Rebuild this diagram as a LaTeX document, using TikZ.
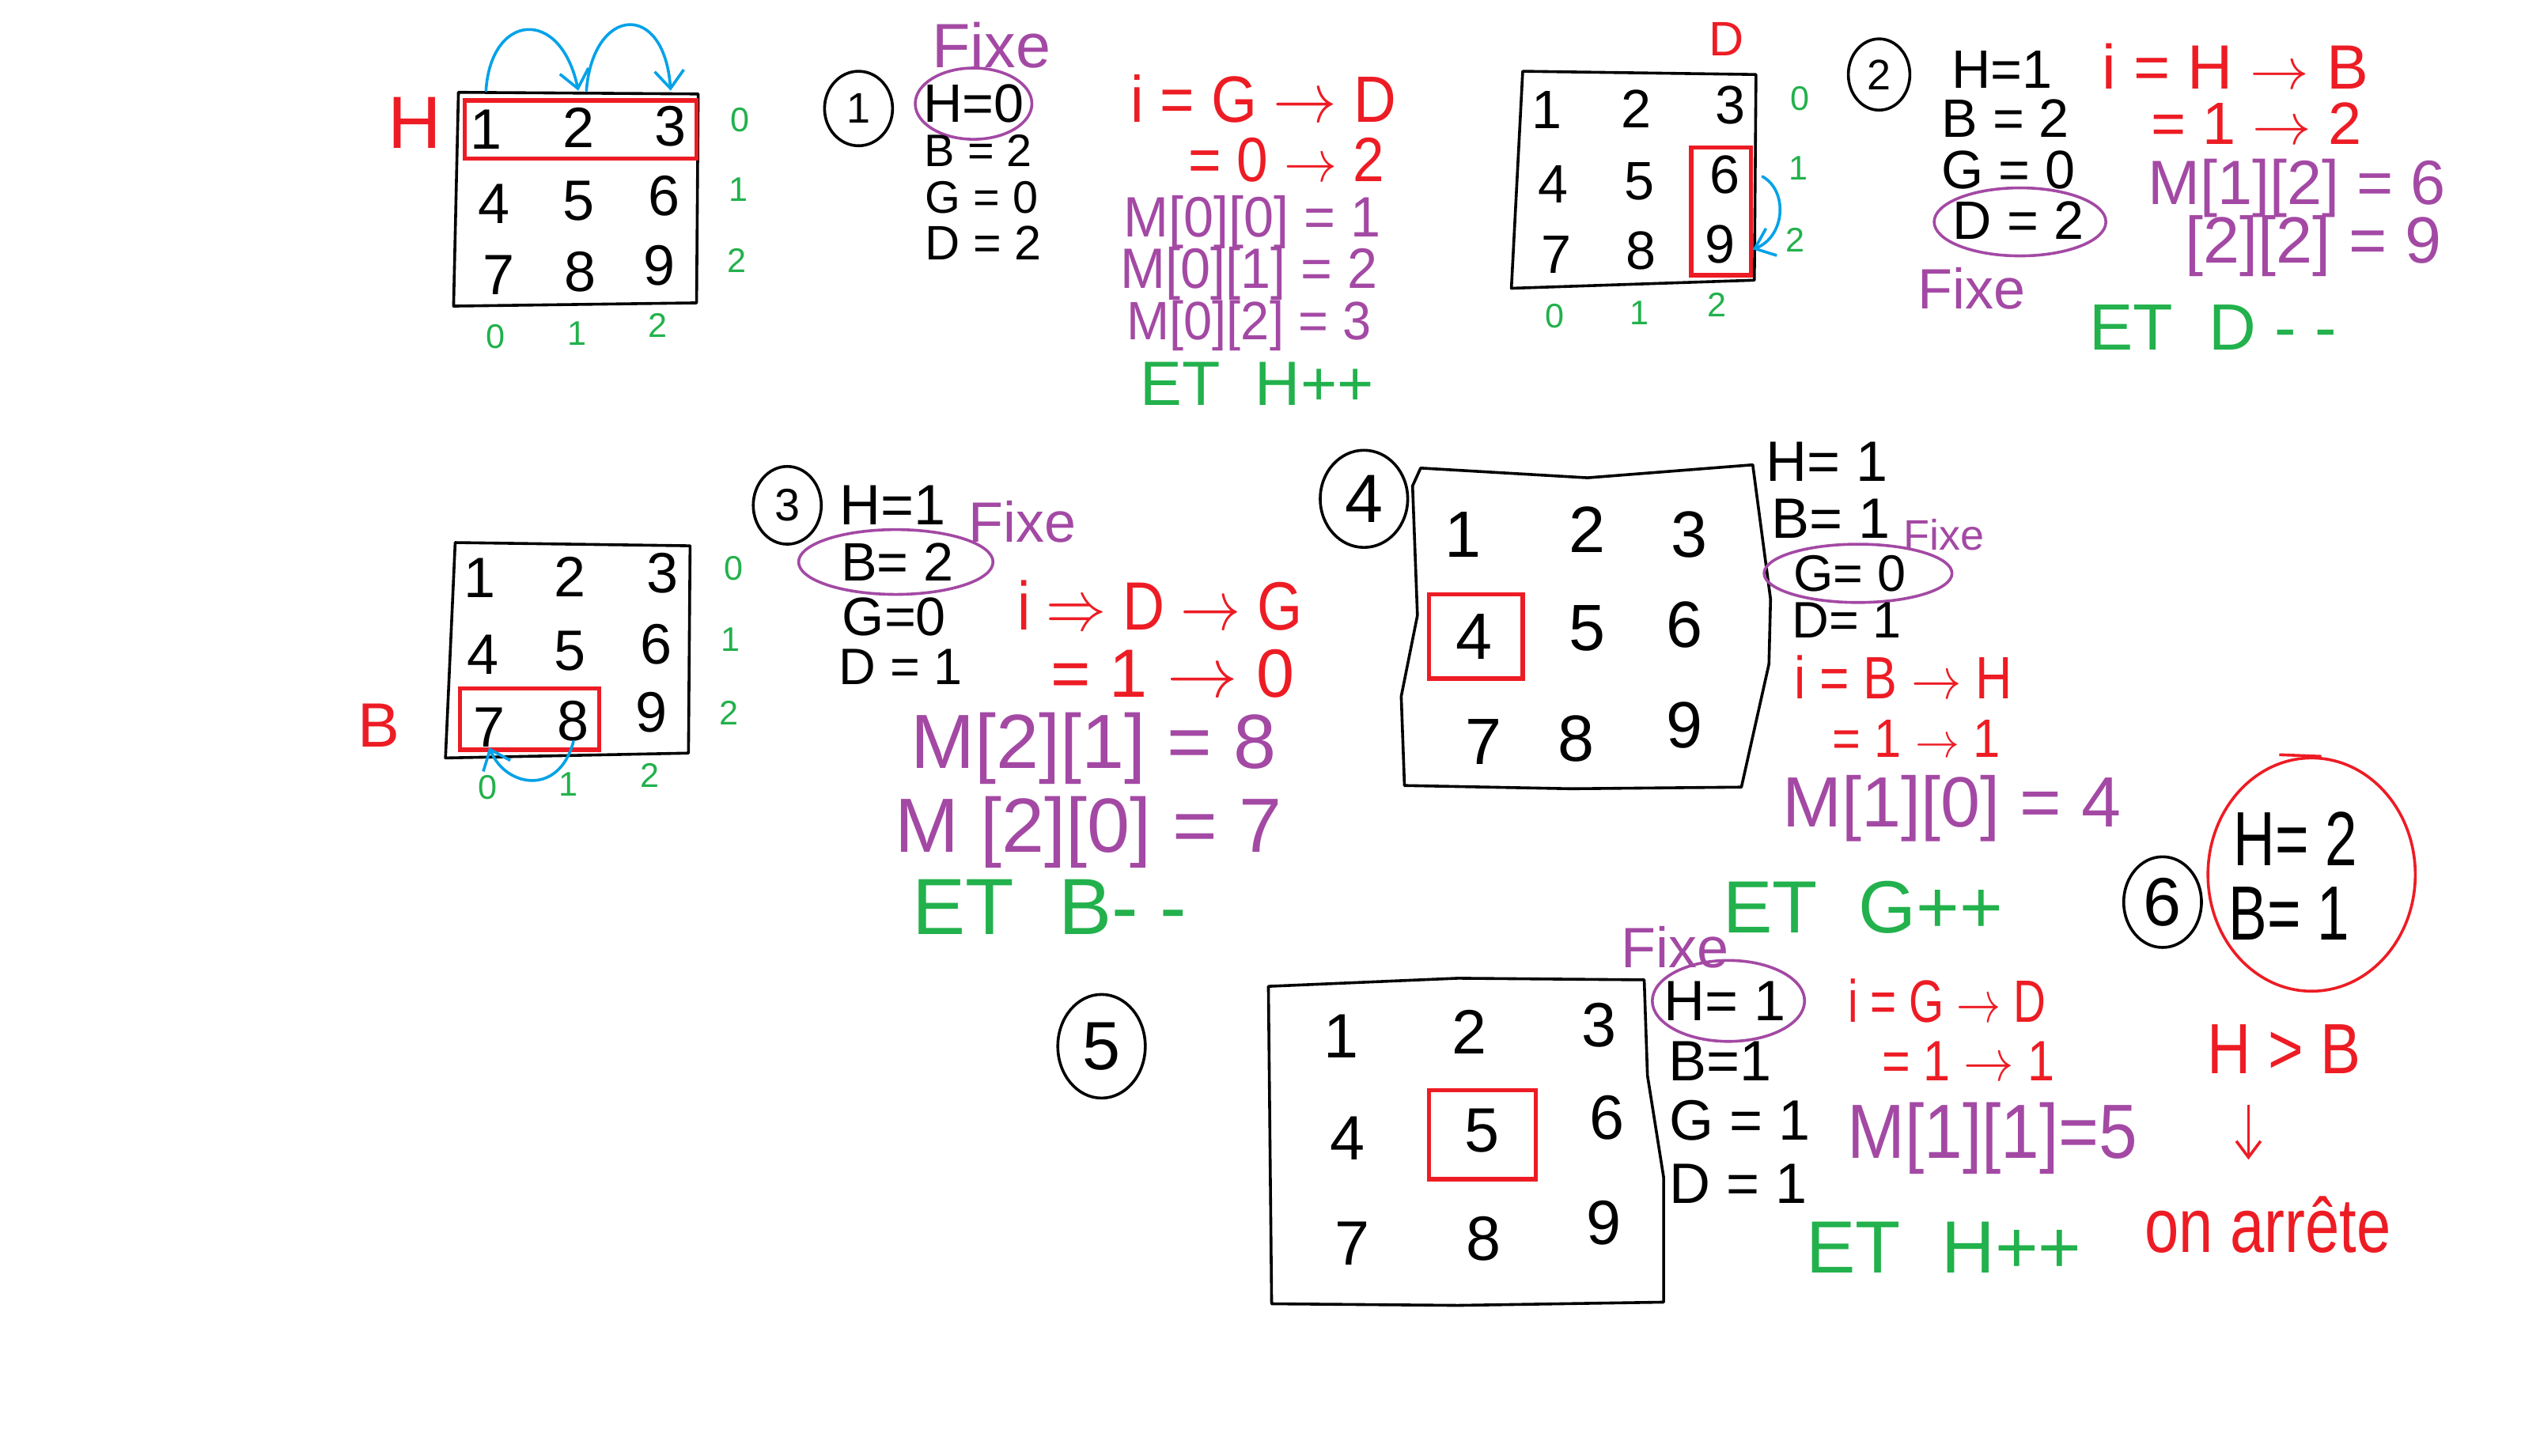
\documentclass[tikz,border=0pt]{standalone}
\usepackage{fontspec}
\usepackage{graphicx}
\setmainfont{Liberation Sans}
\usetikzlibrary{shapes.geometric,arrows.meta}
\definecolor{pRed}{HTML}{ED1C24}
\definecolor{pPurple}{HTML}{A349A4}
\definecolor{pGreen}{HTML}{22B14C}
\definecolor{pBlue}{HTML}{00A2E8}
\newcommand{\hw}[2][0.8]{\scalebox{#1}[1]{#2}}
\tikzset{
  fs/.style={font=\fontsize{#1}{#1}\selectfont},
  txt/.style={inner sep=0pt, anchor=center},
  ink/.style={draw=black, line width=1pt, line join=round, line cap=round},
  redbox/.style={draw=pRed, line width=1.5pt},
  blu/.style={draw=pBlue, line width=1pt, line cap=round, -{Straight Barb[length=2.2mm,width=3.6mm]}},
  pring/.style={draw=pPurple, line width=1pt},
  num/.style={ellipse, draw, line width=1pt, inner sep=0pt},
  rd/.style={txt, text=pRed},
  pu/.style={txt, text=pPurple},
  gr/.style={txt, text=pGreen},
}
\begin{document}
\begin{tikzpicture}[x=0.2mm,y=-0.2mm]
\useasboundingbox (0,0) rectangle (1568,899);
\fill[white] (0,0) rectangle (1568,899);

% ================= Panel 1 =================
\draw[ink] (283,57) -- (431,58) -- (430,187) -- (280,189) -- cycle;
\draw[redbox] (287,62) rectangle (430,98);
\begin{scope}[every node/.style={txt, fs=20}]
\node (a1) at (300,80) {1};
\node (a2) at (357,79) {2};
\node (a3) at (414,78) {3};
\node (a4) at (305,126) {4};
\node (a5) at (357,124) {5};
\node (a6) at (410,121) {6};
\node (a7) at (308,170) {7};
\node (a8) at (358,168) {8};
\node (a9) at (407,164) {9};
\end{scope}
\begin{scope}[every node/.style={gr, fs=12}]
\node (ar0) at (457,74) {0};
\node (ar1) at (456,117) {1};
\node (ar2) at (455,161) {2};
\node (ac0) at (306,208) {0};
\node (ac1) at (356,206) {1};
\node (ac2) at (406,201) {2};
\end{scope}
\node[rd, fs=26] (aH) at (256,76) {H};
\coordinate (atop) at (0,56);
\draw[blu] (a1 |- atop) .. controls (303,8) and (346,4) .. (a2 |- atop);
\draw[blu] ([xshift=1mm]a2 |- atop) .. controls (366,4) and (410,0) .. (a3 |- atop);

\node[num, fs=15, minimum width=8.4mm, minimum height=9.2mm] (c1) at (530,67) {1};
\node[txt, fs=19] (p1h) at (601,64) {H=0};
\draw[pring] (p1h.center) ellipse [x radius=7.2mm, y radius=4.4mm];
\node[pu, fs=22] (p1fixe) at (612,28) {Fixe};
\node[txt, fs=16] (p1b) at (604,93) {B = 2};
\node[txt, fs=16] (p1g) at (606,122) {G = 0};
\node[txt, fs=17] (p1d) at (607,150) {D = 2};
\node[rd, fs=23] (p1i) at (780,61) {\hw[0.9]{i = G $\rightarrow$ D}};
\node[rd, fs=22] (p1j) at (794,99) {\hw[0.9]{= 0 $\rightarrow$ 2}};
\node[pu, fs=20] (p1m1) at (773,137) {\hw[0.95]{M[0][0] = 1}};
\node[pu, fs=20] (p1m2) at (771,169) {\hw[0.95]{M[0][1] = 2}};
\node[pu, fs=19] (p1m3) at (771,201) {\hw[0.95]{M[0][2] = 3}};
\node[gr, fs=22] (p1et) at (776,237) {ET\ \ H++};

% ================= Panel 2 =================
\node[rd, fs=17] (bD) at (1066,24) {D};
\draw[ink] (940,44) -- (1084,46) -- (1083,173) -- (933,178) -- cycle;
\draw[redbox] (1044,91) rectangle (1081,170);
\begin{scope}[every node/.style={txt, fs=19}]
\node (b1) at (955,68) {1};
\node (b2) at (1010,67) {2};
\node (b3) at (1068,65) {3};
\node (b4) at (959,114) {4};
\node (b5) at (1012,112) {5};
\node (b6) at (1065,108) {6};
\node (b7) at (961,157) {7};
\node (b8) at (1013,155) {8};
\node (b9) at (1062,151) {9};
\end{scope}
\begin{scope}[every node/.style={gr, fs=12}]
\node (br0) at (1111,61) {0};
\node (br1) at (1110,104) {1};
\node (br2) at (1108,148) {2};
\node (bc0) at (960,195) {0};
\node (bc1) at (1012,193) {1};
\node (bc2) at (1060,188) {2};
\end{scope}
\coordinate (bs) at (1088,109);
\coordinate (be) at (1082,154);
\draw[blu] (bs) .. controls (1104,118) and (1102,146) .. (be);

\node[num, fs=15, minimum width=7.6mm, minimum height=8.8mm] (c2) at (1160,46) {2};
\node[txt, fs=19] (q1) at (1236,43) {H=1};
\node[txt, fs=19] (q2) at (1238,73) {B = 2};
\node[txt, fs=19] (q3) at (1240,105) {G = 0};
\node[txt, fs=19] (q4) at (1246,136) {D = 2};
\draw[pring] (1247,137) ellipse [x radius=10.6mm, y radius=4.2mm];
\node[pu, fs=20] (q5) at (1217,178) {Fixe};
\node[rd, fs=22] (q6) at (1380,41) {i = H $\rightarrow$ B};
\node[rd, fs=21] (q7) at (1393,76) {= 1 $\rightarrow$ 2};
\node[pu, fs=22] (q8) at (1418,116) {M[1][2] = 6};
\node[pu, fs=23] (q9) at (1428,152) {[2][2] = 9};
\node[gr, fs=23] (q10) at (1366,202) {ET\ \ D - -};

% ================= Panel 3 =================
\draw[ink] (281,335) -- (426,337) -- (425,465) -- (275,468) -- cycle;
\draw[redbox] (284,425) rectangle (370,463);
\begin{scope}[every node/.style={txt, fs=20}]
\node (d1) at (296,357) {1};
\node (d2) at (352,356) {2};
\node (d3) at (409,354) {3};
\node (d4) at (298,404) {4};
\node (d5) at (352,402) {5};
\node (d6) at (405,398) {6};
\node (d7) at (302,449) {7};
\node (d8) at (354,445) {8};
\node (d9) at (402,440) {9};
\end{scope}
\node[rd, fs=22] (dB) at (234,448) {B};
\begin{scope}[every node/.style={gr, fs=12}]
\node (dr0) at (453,351) {0};
\node (dr1) at (451,395) {1};
\node (dr2) at (450,440) {2};
\node (dc0) at (301,486) {0};
\node (dc1) at (351,484) {1};
\node (dc2) at (401,479) {2};
\end{scope}
\draw[blu] (d8.south) .. controls (345,492) and (312,486) .. (d7.south);

\node[num, fs=16, minimum width=8.4mm, minimum height=9.6mm] (c3) at (486,312) {3};
\node[txt, fs=20] (s1) at (551,312) {H=1};
\node[txt, fs=19] (s2) at (554,347) {B= 2};
\draw[pring] (553,347) ellipse [x radius=12mm, y radius=4mm];
\node[txt, fs=19] (s3) at (552,381) {G=0};
\node[txt, fs=18] (s4) at (556,412) {D = 1};
\node[pu, fs=20] (s5) at (631,322) {Fixe};
\node[rd, fs=24] (s6) at (716,374) {\hw[0.85]{i $\Rightarrow$ D $\rightarrow$ G}};
\node[rd, fs=24] (s7) at (724,416) {= 1 $\rightarrow$ 0};
\node[pu, fs=27] (s8) at (675,462) {M[2][1] = 8};
\node[pu, fs=27] (s9) at (672,514) {M [2][0] = 7};
\node[gr, fs=28] (s10) at (648,560) {ET\ \ B- -};

% ================= Panel 4 =================
\node[num, fs=24, minimum width=10.8mm, minimum height=12mm] (c4) at (842,308) {4};
\draw[ink] (877,289) -- (980,295) -- (1082,287) -- (1093,370) -- (1092,410) -- (1075,486)
  -- (970,487) -- (867,485) -- (865,430) -- (875,380) -- (872,300) -- cycle;
\draw[redbox] (882,367) rectangle (940,419);
\begin{scope}[every node/.style={txt, fs=23}]
\node (e1) at (903,330) {1};
\node (e2) at (980,327) {2};
\node (e3) at (1043,330) {3};
\node (e4) at (910,393) {4};
\node (e5) at (980,388) {5};
\node (e6) at (1040,386) {6};
\node (e7) at (916,458) {7};
\node (e8) at (973,456) {8};
\node (e9) at (1040,448) {9};
\end{scope}
\node[txt, fs=20] (u1) at (1128,285) {H= 1};
\node[txt, fs=20] (u2) at (1130,320) {B= 1};
\node[txt, fs=18] (u3) at (1142,354) {G= 0};
\draw[pring] (1147,354) ellipse [x radius=11.6mm, y radius=3.6mm];
\node[txt, fs=18] (u4) at (1140,383) {D= 1};
\node[pu, fs=15] (u5) at (1200,330) {Fixe};
\node[rd, fs=21] (u6) at (1175,418) {\hw[0.85]{i = B $\rightarrow$ H}};
\node[rd, fs=19] (u7) at (1183,456) {\hw[0.9]{= 1 $\rightarrow$ 1}};
\node[pu, fs=25] (u8) at (1205,499) {M[1][0] = 4};
\node[gr, fs=26] (u9) at (1150,560) {ET\ \ G++};

% ================= Panel 5 =================
\node[num, fs=24, minimum width=10.8mm, minimum height=12.8mm] (c5) at (680,646) {5};
\draw[ink] (783,609) -- (900,604) -- (1015,605) -- (1017,664) -- (1027,727) -- (1027,804)
  -- (900,806) -- (785,805) -- cycle;
\draw[redbox] (882,673) rectangle (948,728);
\begin{scope}[every node/.style={txt, fs=22}]
\node (f1) at (828,640) {1};
\node (f2) at (907,637) {2};
\node (f3) at (987,633) {3};
\node (f4) at (832,703) {4};
\node (f5) at (915,698) {5};
\node (f6) at (992,690) {6};
\node (f7) at (835,768) {7};
\node (f8) at (916,765) {8};
\node (f9) at (990,755) {9};
\end{scope}
\node[txt, fs=20] (v1) at (1065,618) {H= 1};
\draw[pring] (1067,618) ellipse [x radius=9.4mm, y radius=5mm];
\node[txt, fs=20] (v2) at (1062,655) {B=1};
\node[txt, fs=20] (v3) at (1074,692) {G = 1};
\node[txt, fs=20] (v4) at (1073,731) {D = 1};
\node[pu, fs=20] (v5) at (1034,585) {Fixe};
\node[rd, fs=21] (v6) at (1202,618) {\hw[0.75]{i = G $\rightarrow$ D}};
\node[rd, fs=20] (v7) at (1215,655) {\hw[0.85]{= 1 $\rightarrow$ 1}};
\node[pu, fs=27] (v8) at (1230,703) {\hw[0.9]{M[1][1]=5}};
\node[gr, fs=26] (v9) at (1200,770) {ET\ \ H++};

% ================= Panel 6 =================
\node[num, fs=24, minimum width=9.6mm, minimum height=11.2mm] (c6) at (1335,557) {6};
\draw[draw=pRed, line width=1pt] (1427,540) ellipse [x radius=12.8mm, y radius=14.4mm];
\draw[draw=pRed, line width=1pt] (1407,466) -- (1433,467);
\node[txt, fs=27] (w1) at (1417,518) {\hw[0.75]{H= 2}};
\node[txt, fs=27] (w2) at (1413,564) {\hw[0.75]{B= 1}};
\node[rd, fs=25] (w3) at (1410,648) {\hw[0.85]{H > B}};
\node[rd, fs=27] (w4) at (1400,756) {\hw[0.8]{on arrête}};
\coordinate (wa) at (1388,682);
\coordinate (wb) at (1388,716);
\draw[draw=pRed, line width=1pt, -{Straight Barb[length=2mm,width=3mm]}] (wa) -- (wb);
\end{tikzpicture}
\end{document}
